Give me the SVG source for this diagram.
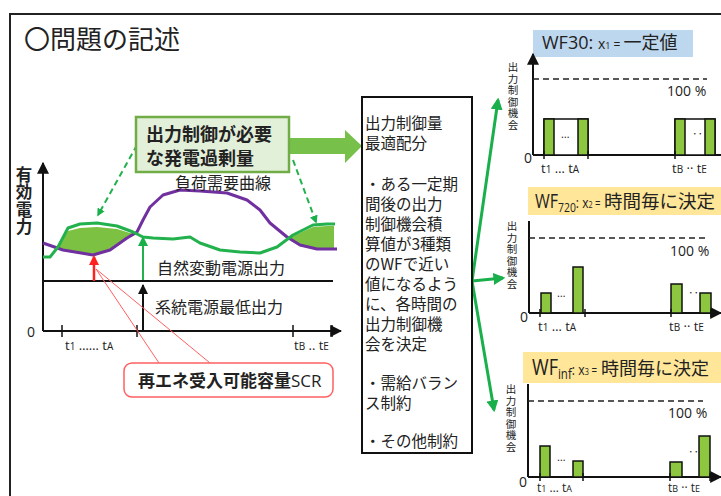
<svg xmlns="http://www.w3.org/2000/svg" width="721" height="496" viewBox="0 0 721 496">
<defs>
<style>
.jp{font-family:"Noto Sans CJK JP","Noto Sans",sans-serif;fill:#222}
.lat{font-family:"Open Sans","Noto Sans CJK JP",sans-serif;fill:#222}
.vt{writing-mode:vertical-rl;font-family:"Noto Sans CJK JP",sans-serif;fill:#222}
.ax{stroke:#111;stroke-width:2;fill:none}
.bar{fill:#8dc63f;stroke:#111;stroke-width:1.5}
.dash{stroke:#222;stroke-width:1.5;stroke-dasharray:6 4;fill:none}
.conn{stroke:#19b04b;stroke-width:3;fill:none}
</style>
<marker id="ah" viewBox="0 0 10 10" refX="9" refY="5" markerWidth="6" markerHeight="6" orient="auto"><path d="M0,0L10,5L0,10z" fill="#111"/></marker>
<marker id="ahg" viewBox="0 0 10 10" refX="8" refY="5" markerWidth="4" markerHeight="4" orient="auto"><path d="M0,0L10,5L0,10z" fill="#19b04b"/></marker>
<marker id="ahg2" viewBox="0 0 10 10" refX="8" refY="5" markerWidth="5" markerHeight="5" orient="auto"><path d="M0,0L10,5L0,10z" fill="#19b04b"/></marker>
<marker id="ahr" viewBox="0 0 10 10" refX="8" refY="5" markerWidth="4" markerHeight="4" orient="auto"><path d="M0,0L10,5L0,10z" fill="#ff2020"/></marker>
<marker id="ahs" viewBox="0 0 10 10" refX="9" refY="5" markerWidth="5" markerHeight="5" orient="auto"><path d="M0,0L10,5L0,10z" fill="#111"/></marker>
</defs>
<rect width="721" height="496" fill="#fff"/>
<rect x="10" y="14" width="720" height="500" fill="none" stroke="#222" stroke-width="2"/>
<text class="jp" x="24" y="49" font-size="26">〇問題の記述</text>

<!-- left chart -->
<g id="chart">
<polygon points="56,249 62,240 68,231 80,228 97,227 117,229 130,233 137,234 127,239 110,251 93,256 75,253 60,250" fill="#7dc142"/>
<polygon points="290,237 300,233 313,227 327,226 334,226 334,249 317,250 300,246" fill="#7dc142"/>
<line class="ax" x1="43" y1="331" x2="43" y2="163" marker-end="url(#ah)"/>
<line class="ax" x1="43" y1="331" x2="341" y2="331" marker-end="url(#ah)"/>
<g stroke="#111" stroke-width="1.5">
<line x1="62" y1="325" x2="62" y2="337"/><line x1="137" y1="325" x2="137" y2="337"/>
<line x1="293" y1="325" x2="293" y2="337"/><line x1="332" y1="325" x2="332" y2="337"/>
</g>
<line x1="43" y1="281" x2="333" y2="281" stroke="#111" stroke-width="2"/>
<polyline points="43,243 63,250 93,255 110,250 127,238 137,232 143,220 150,207 163,195 180,190 200,191 227,193 247,200 260,210 270,223 287,237 300,245 317,249 337,249" fill="none" stroke="#7030a0" stroke-width="3" stroke-linejoin="round"/>
<polyline points="43,257 50,257 58,247 68,228 80,224 97,223 117,226 133,232 143,237 153,238 173,239 190,237 200,243 220,250 240,252 260,253 277,247 293,235 313,225 327,224 335,224" fill="none" stroke="#22b14c" stroke-width="3" stroke-linejoin="round"/>
<line x1="143" y1="331" x2="143" y2="285" stroke="#111" stroke-width="2" marker-end="url(#ahs)"/>
<line x1="143" y1="280" x2="143" y2="238" stroke="#22b14c" stroke-width="2" marker-end="url(#ahg2)"/>
<line x1="94" y1="281" x2="94" y2="257" stroke="#ff2020" stroke-width="2.5" marker-end="url(#ahr)"/>
<text class="vt" x="24" y="166" font-size="16.5" font-weight="bold" letter-spacing="1">有効電力</text>
<text class="lat" x="27" y="337" font-size="14">0</text>
<text class="lat" x="65" y="350" font-size="13">t<tspan font-size="10">1</tspan>   ……   t<tspan font-size="10">A</tspan></text>
<text class="lat" x="294" y="350" font-size="13">t<tspan font-size="10">B</tspan> .. t<tspan font-size="10">E</tspan></text>
<text class="jp" x="175" y="189" font-size="16" fill="#333">負荷需要曲線</text>
<text class="jp" x="157" y="274" font-size="16" fill="#333">自然変動電源出力</text>
<text class="jp" x="155" y="313" font-size="16" fill="#333">系統電源最低出力</text>
</g>

<g id="connectors">
<line x1="137" y1="145" x2="98" y2="215" stroke="#22b14c" stroke-width="2" stroke-dasharray="6 4" marker-end="url(#ahg)"/>
<line x1="293" y1="160" x2="316" y2="222" stroke="#22b14c" stroke-width="2" stroke-dasharray="6 4" marker-end="url(#ahg)"/>
<line x1="96" y1="269" x2="159" y2="363" stroke="#ff6060" stroke-width="1"/>
<line x1="96" y1="269" x2="210" y2="363" stroke="#ff6060" stroke-width="1"/>
<polygon points="289,138 345,138 345,130 362,146 345,163 345,154 289,154" fill="#77c04a"/>
<line class="conn" x1="472" y1="281" x2="498" y2="100" marker-end="url(#ahg)"/>
<line class="conn" x1="472" y1="281" x2="503" y2="278" marker-end="url(#ahg)"/>
<line class="conn" x1="472" y1="281" x2="494" y2="410" marker-end="url(#ahg)"/>
</g>

<g id="excess">
<rect x="136" y="117" width="153" height="55" fill="#e2efd9" stroke="#70ad47" stroke-width="2.5"/>
<text class="jp" x="146" y="141" font-size="18" font-weight="bold">出力制御が必要</text>
<text class="jp" x="146" y="165" font-size="18" font-weight="bold">な発電過剰量</text>
</g>

<g id="scr">
<rect x="124" y="363" width="209" height="34" rx="8" fill="#fff" stroke="#ff6060" stroke-width="1.5"/>
<text class="jp" x="138" y="387" font-size="17"><tspan font-weight="bold">再エネ受入可能容量</tspan><tspan font-family="Open Sans,sans-serif">SCR</tspan></text>
</g>

<g id="optim">
<rect x="362" y="97" width="110" height="356" fill="#fff" stroke="#111" stroke-width="2"/>
<g class="jp" font-size="15.5" fill="#333">
<text x="365" y="129">出力制御量</text>
<text x="365" y="149">最適配分</text>
<text x="365" y="190">・ある一定期</text>
<text x="365" y="210">間後の出力</text>
<text x="365" y="230">制御機会積</text>
<text x="365" y="250">算値が3種類</text>
<text x="365" y="270">のWFで近い</text>
<text x="365" y="290">値になるよう</text>
<text x="365" y="310">に、各時間の</text>
<text x="365" y="330">出力制御機</text>
<text x="365" y="350">会を決定</text>
<text x="365" y="389">・需給バラン</text>
<text x="365" y="409">ス制約</text>
<text x="365" y="447">・その他制約</text>
</g>
</g>

<!-- panel 1 -->
<g id="wf30">
<rect x="533" y="30" width="160" height="27" fill="#bdd7ee"/>
<text class="lat" x="542" y="49" font-size="18">WF30: <tspan font-size="14">x</tspan><tspan font-size="9">1</tspan><tspan font-size="12"> = </tspan><tspan class="jp">一定値</tspan></text>
<line class="ax" x1="533" y1="155" x2="533" y2="54" stroke-width="1.5" marker-end="url(#ah)"/>
<line class="ax" x1="533" y1="155" x2="721" y2="155" stroke-width="1.5"/>
<line class="dash" x1="533" y1="79" x2="707" y2="79"/>
<text class="lat" x="667" y="96" font-size="14">100 %</text>
<rect x="544" y="119" width="44" height="36" fill="#fff" stroke="#111" stroke-width="1.5"/>
<rect class="bar" x="544" y="119" width="10" height="36"/><rect class="bar" x="578" y="119" width="10" height="36"/>
<rect x="675" y="119" width="40" height="36" fill="#fff" stroke="#111" stroke-width="1.5"/>
<rect class="bar" x="675" y="119" width="10" height="36"/><rect class="bar" x="705" y="119" width="10" height="36"/>
<text class="lat" x="561" y="138" font-size="11">…</text>
<text class="lat" x="692" y="138" font-size="11">‥</text>
<text class="vt" x="513" y="62" font-size="10.5" letter-spacing="1">出力制御機会</text>
<text class="lat" x="524" y="163" font-size="14">0</text>
<text class="lat" x="541" y="173" font-size="13">t<tspan font-size="10">1</tspan> … t<tspan font-size="10">A</tspan></text>
<text class="lat" x="672" y="173" font-size="13">t<tspan font-size="10">B</tspan> ·· t<tspan font-size="10">E</tspan></text>
<g stroke="#111" stroke-width="1.5"><line x1="544" y1="151" x2="544" y2="159"/><line x1="588" y1="151" x2="588" y2="159"/><line x1="675" y1="151" x2="675" y2="159"/></g>
</g>

<!-- panel 2 -->
<g id="wf720">
<rect x="528" y="187" width="193" height="28" fill="#ffe699"/>
<text class="lat" transform="translate(535,208) scale(0.8,1)" font-size="20">WF<tspan font-size="13" dy="4">720</tspan><tspan font-size="15" dy="-4">: x</tspan><tspan font-size="9">2</tspan><tspan font-size="12"> =</tspan></text>
<text class="jp" x="604" y="208" font-size="18.5">時間毎に決定</text>
<line class="ax" x1="529" y1="313" x2="529" y2="221" stroke-width="1.5"/>
<line class="ax" x1="529" y1="313" x2="721" y2="313" stroke-width="1.5" marker-end="url(#ah)"/>
<line class="dash" x1="529" y1="238" x2="705" y2="238"/>
<text class="lat" x="670" y="256" font-size="14">100 %</text>
<rect class="bar" x="541" y="293" width="10" height="20"/>
<rect class="bar" x="573" y="267" width="10" height="46"/>
<rect class="bar" x="671" y="284" width="11" height="29"/>
<rect class="bar" x="700" y="293" width="11" height="20"/>
<text class="lat" x="557" y="297" font-size="11">…</text>
<text class="lat" x="688" y="297" font-size="11">‥</text>
<text class="vt" x="512" y="221" font-size="10.5" letter-spacing="1">出力制御機会</text>
<text class="lat" x="520" y="322" font-size="14">0</text>
<text class="lat" x="538" y="331" font-size="13">t<tspan font-size="10">1</tspan> … t<tspan font-size="10">A</tspan></text>
<text class="lat" x="669" y="331" font-size="13">t<tspan font-size="10">B</tspan> ·· t<tspan font-size="10">E</tspan></text>
<g stroke="#111" stroke-width="1.5"><line x1="540" y1="309" x2="540" y2="317"/><line x1="585" y1="309" x2="585" y2="317"/><line x1="671" y1="309" x2="671" y2="317"/><line x1="711" y1="309" x2="711" y2="317"/></g>
</g>

<!-- panel 3 -->
<g id="wfinf">
<rect x="523" y="352" width="198" height="31" fill="#ffe699"/>
<text class="lat" transform="translate(532,375) scale(0.82,1)" font-size="22">WF<tspan font-size="14" dy="4">inf</tspan><tspan font-size="15" dy="-4">: x</tspan><tspan font-size="9">3</tspan><tspan font-size="12"> =</tspan></text>
<text class="jp" x="601" y="375" font-size="18">時間毎に決定</text>
<line class="ax" x1="528" y1="477" x2="528" y2="384" stroke-width="1.5"/>
<line class="ax" x1="528" y1="477" x2="721" y2="477" stroke-width="1.5" marker-end="url(#ah)"/>
<line class="dash" x1="528" y1="401" x2="703" y2="401"/>
<text class="lat" x="668" y="418" font-size="14">100 %</text>
<rect class="bar" x="540" y="446" width="10" height="31"/>
<rect class="bar" x="573" y="461" width="10" height="16"/>
<rect class="bar" x="670" y="462" width="12" height="15"/>
<rect class="bar" x="699" y="436" width="11" height="41"/>
<text class="lat" x="557" y="461" font-size="11">…</text>
<text class="lat" x="688" y="456" font-size="11">‥</text>
<text class="vt" x="511" y="384" font-size="10.5" letter-spacing="1">出力制御機会</text>
<text class="lat" x="519" y="487" font-size="14">0</text>
<text class="lat" x="537" y="492" font-size="12">t<tspan font-size="9">1</tspan> … t<tspan font-size="9">A</tspan></text>
<text class="lat" x="668" y="492" font-size="12">t<tspan font-size="9">B</tspan> ·· t<tspan font-size="9">E</tspan></text>
<g stroke="#111" stroke-width="1.5"><line x1="540" y1="473" x2="540" y2="481"/><line x1="583" y1="473" x2="583" y2="481"/><line x1="670" y1="473" x2="670" y2="481"/><line x1="710" y1="473" x2="710" y2="481"/></g>
</g>
</svg>
